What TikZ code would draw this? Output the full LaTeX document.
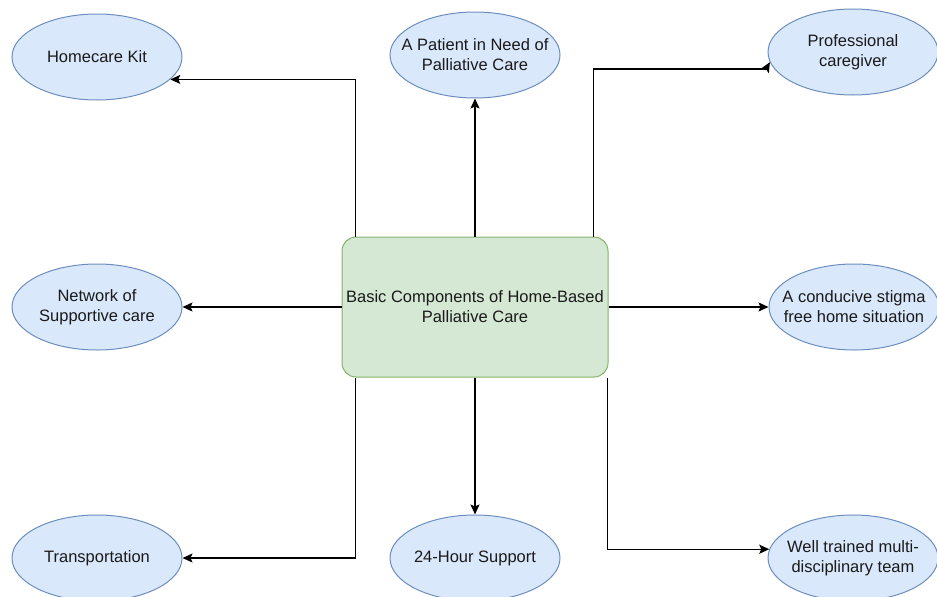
\documentclass[tikz,border=0pt]{standalone}
\usepackage{fontspec}
\setmainfont{Liberation Sans}
\usetikzlibrary{arrows.meta,shapes.geometric}

\definecolor{leaffill}{HTML}{DAE8FC}
\definecolor{leafline}{HTML}{6C8EBF}
\definecolor{hubfill}{HTML}{D5E8D4}
\definecolor{hubline}{HTML}{82B366}
\definecolor{inkcol}{HTML}{1A1A1A}

\begin{document}
\begin{tikzpicture}[
  x=1pt, y=-1pt,
  font=\fontsize{16.5}{20}\selectfont,
  leaf/.style={ellipse, draw=leafline, fill=leaffill, line width=1pt,
    minimum width=170pt, minimum height=86pt, inner sep=0pt},
  leaftext/.style={text=inkcol, align=center, inner sep=0pt},
  hub/.style={rectangle, rounded corners=14pt, draw=hubline, fill=hubfill,
    line width=1pt, minimum width=266pt, minimum height=140pt,
    inner sep=0pt, align=center, text=inkcol},
  arr/.style={draw=black, line width=1.3pt,
    -{Stealth[length=10pt,width=9pt,inset=2pt]}}
]
\useasboundingbox (0,0) rectangle (937,597);

% central component box
\node[hub] (hub) at (475,307) {Basic Components of Home-Based\\Palliative Care};

% surrounding components
\node[leaf, label={[leaftext]center:Homecare Kit}] (homecare) at (97,57) {};
\node[leaf, label={[leaftext]center:A Patient in Need of\\Palliative Care}] (patient) at (475,55) {};
\node[leaf, label={[leaftext]center:Professional\\caregiver}] (prof) at (853,52) {};
\node[leaf, label={[leaftext]center:Network of\\Supportive care}] (network) at (97,307) {};
\node[leaf, label={[leaftext]center:A conducive stigma\\free home situation}] (home) at (854,307) {};
\node[leaf, label={[leaftext]center:Transportation}] (transport) at (97,558) {};
\node[leaf, label={[leaftext]center:24-Hour Support}] (support) at (475,558) {};
\node[leaf, label={[leaftext]center:Well trained multi-\\disciplinary team}] (team) at (853,558) {};

% start points on the box edges and the kink before the caregiver ellipse
\coordinate (tl) at ([xshift=14pt]hub.north west);
\coordinate (tr) at ([xshift=-15pt]hub.north east);
\coordinate (bl) at ([xshift=14pt]hub.south west);
\coordinate (br) at ([xshift=-1pt]hub.south east);
\coordinate (kink) at (766,69);

% connectors
\draw[arr] (tl) |- (homecare.-17);
\draw[arr] (hub.north) -- (patient.south);
\draw[line width=1.3pt] (tr) |- (kink);
\draw[arr] (kink) -- (prof.187);
\draw[arr] (hub.west) -- (network.east);
\draw[arr] (hub.east) -- (home.west);
\draw[arr] (bl) |- (transport.east);
\draw[arr] (hub.south) -- (support.north);
\draw[arr] (br) |- (team.174);
\end{tikzpicture}
\end{document}
